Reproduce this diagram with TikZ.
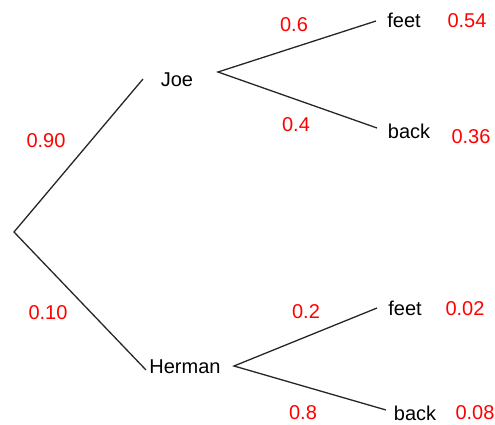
\documentclass[tikz,border=0pt]{standalone}
\usepackage{fontspec}
\setmainfont{Liberation Sans}
\begin{document}
\begin{tikzpicture}[x=1pt,y=-1pt,
  lbl/.style={font=\fontsize{20}{22}\selectfont, text=black, inner sep=0pt, anchor=center},
  prob/.style={font=\fontsize{20}{22}\selectfont, text=red, inner sep=0pt, anchor=center},
  branch/.style={line width=1.3pt, draw=black!85}]
\useasboundingbox (0,0) rectangle (495,425);
% labels
\node[lbl] (joe) at (177,80) {Joe};
\node[lbl] (herman) at (185,367) {Herman};
\node[lbl] (feetA) at (404,20) {feet};
\node[lbl] (backA) at (409,131) {back};
\node[lbl] (feetB) at (405,308) {feet};
\node[lbl] (backB) at (415,413) {back};
% probabilities
\node[prob] (p90) at (46,141) {0.90};
\node[prob] (p10) at (48,313) {0.10};
\node[prob] (p6) at (294,25) {0.6};
\node[prob] (p4) at (296,125) {0.4};
\node[prob] (p2) at (306,312) {0.2};
\node[prob] (p8) at (303,413) {0.8};
\node[prob] (p54) at (467,21) {0.54};
\node[prob] (p36) at (471,137) {0.36};
\node[prob] (p02) at (465,309) {0.02};
\node[prob] (p08) at (475,413) {0.08};
% line ends
\coordinate (root) at (14,232);
\coordinate (joeIn) at (143,79);
\coordinate (hermanIn) at (146,370);
\coordinate (joeOut) at (218,72);
\coordinate (hermanOut) at (234,366);
\coordinate (feetAIn) at (376,21);
\coordinate (backAIn) at (377,128);
\coordinate (feetBIn) at (377,308);
\coordinate (backBIn) at (386,410);
% branches
\draw[branch] (joeIn) -- (root) -- (hermanIn);
\draw[branch] (feetAIn) -- (joeOut) -- (backAIn);
\draw[branch] (feetBIn) -- (hermanOut) -- (backBIn);
\end{tikzpicture}
\end{document}
